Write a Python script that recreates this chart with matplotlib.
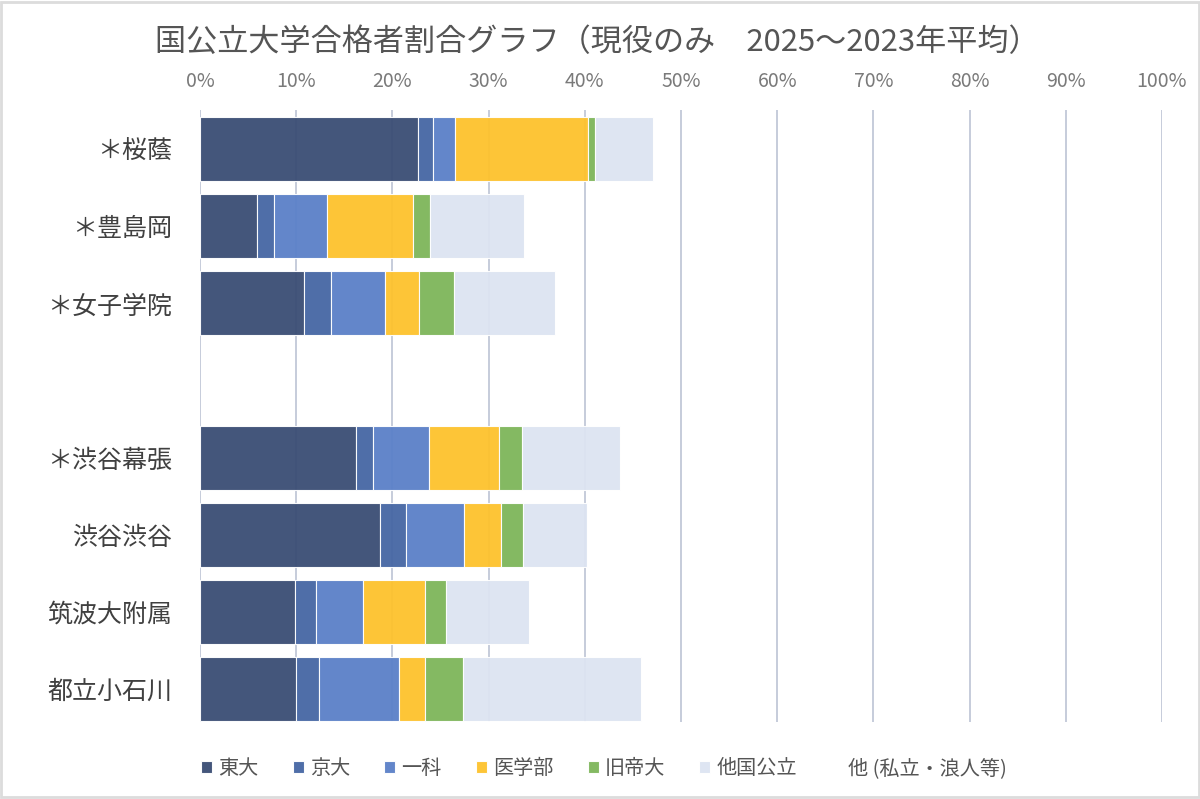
import numpy as np
import matplotlib.pyplot as plt
from matplotlib.patches import Rectangle

plt.rcParams['font.family'] = ['Noto Sans CJK JP', 'DejaVu Sans']

TITLE = "国公立大学合格者割合グラフ（現役のみ　2025～2023年平均）"

schools = ["＊桜蔭", "＊豊島岡", "＊女子学院", "", "＊渋谷幕張", "渋谷渋谷", "筑波大附属", "都立小石川"]

series_names = ["東大", "京大", "一科", "医学部", "旧帝大", "他国公立", "他 (私立・浪人等)"]

todai = [22.7, 5.9, 10.85, 0, 16.2, 18.7, 9.9, 10.0]
kyodai = [1.5, 1.8, 2.75, 0, 1.8, 2.7, 2.2, 2.4]
ikka = [2.3, 5.5, 5.6, 0, 5.8, 6.0, 4.8, 8.3]
igaku = [13.8, 8.9, 3.6, 0, 7.3, 3.9, 6.5, 2.7]
kyuteidai = [0.8, 1.8, 3.6, 0, 2.4, 2.3, 2.2, 3.9]
other_public = [6.0, 9.8, 10.5, 0, 10.2, 6.6, 8.6, 18.5]
other = [52.9, 66.3, 63.1, 0, 56.3, 59.8, 65.8, 54.2]

colors = ["#3a4d74", "#4566a3", "#5b80c8", "#fdc22c", "#7db55a", "#dde4f2", "#ffffff"]


def main():
    data = [todai, kyodai, ikka, igaku, kyuteidai, other_public, other]

    fig = plt.figure(figsize=(12, 7.99), dpi=100)
    ax = fig.add_axes([0.1667, 0.0964, 0.8016, 0.7659])

    y = np.arange(len(schools))
    left = np.zeros(len(schools))
    for i, (name, vals, col) in enumerate(zip(series_names, data, colors)):
        vals = np.array(vals)
        # last series ("other") is drawn invisible, it only fills to 100%
        alpha = 0.0 if i == len(data) - 1 else 0.95
        lw = np.where(vals > 0, 0.8, 0.0) if alpha else 0
        ax.barh(y, vals, left=left, height=0.83, color=col,
                edgecolor="white", linewidth=lw,
                label=name, alpha=alpha, zorder=1)
        left += vals

    ax.set_xlim(0, 100)
    ax.set_ylim(7.43, -0.51)
    ax.set_yticks(y)
    ax.set_yticklabels(schools, fontsize=18, color="#404040")
    ax.set_xticks(np.arange(0, 101, 10))
    ax.set_xticklabels([f"{v}%" for v in range(0, 101, 10)], fontsize=14, color="#7a7a7a")
    ax.xaxis.tick_top()
    ax.tick_params(axis="x", length=0, pad=13)
    ax.tick_params(axis="y", length=0, pad=20)
    for s in ax.spines.values():
        s.set_visible(False)
    ax.grid(axis="x", color="#bcc3d4", linewidth=1.2, zorder=0)
    ax.set_axisbelow(True)

    fig.text(0.498, 0.947, TITLE, ha="center", va="center", fontsize=22.4, color="#555555")

    leg = ax.legend(loc="upper center", bbox_to_anchor=(0.42, -0.03), ncol=7,
                    frameon=False, fontsize=14.5, handlelength=0.55, handleheight=0.55,
                    handletextpad=0.3, columnspacing=1.7)
    for t in leg.get_texts():
        t.set_color("#555555")

    # thin light frame around the whole picture
    fig.patches.append(Rectangle((0.001, 0.002), 0.998, 0.996, transform=fig.transFigure,
                                 fill=False, edgecolor="#dcdcdc", linewidth=2))

    fig.savefig("out.png", dpi=100)


if __name__ == "__main__":
    main()
